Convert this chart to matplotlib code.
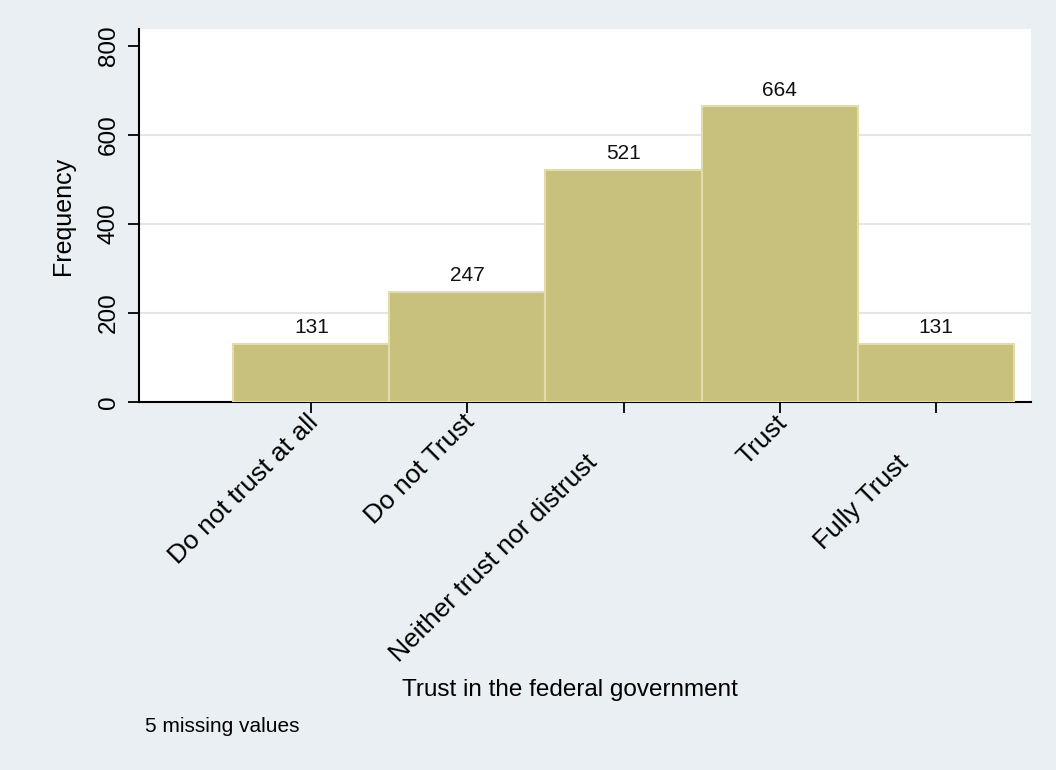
import matplotlib.pyplot as plt

# Dades de l'histograma
categories = ['Do not trust at all', 'Do not Trust', 'Neither trust nor distrust', 'Trust', 'Fully Trust']
positions = [1, 2, 3, 4, 5]
counts = [131, 247, 521, 664, 131]
yticks = [0, 200, 400, 600, 800]

plt.rcParams['font.family'] = ['Liberation Sans', 'DejaVu Sans']

fig = plt.figure(figsize=(10.56, 7.70), dpi=100, facecolor='#e9eff2')
ax = fig.add_axes([0.1316, 0.4779, 0.8447, 0.4844])
ax.set_facecolor('white')

ax.bar(positions, counts, width=1.0, color='#c8c17e', edgecolor='#e2dbab', linewidth=1.5, zorder=3)
for x, v in zip(positions, counts):
    ax.annotate(str(v), (x, v), xytext=(0, 5), textcoords='offset points',
                ha='center', va='bottom', fontsize=15, color='#111111')

ax.set_xlim(-0.104, 5.61)
ax.set_ylim(0, 838)

ax.set_yticks(yticks)
ax.set_yticklabels([str(t) for t in yticks], rotation=90, va='center', fontsize=17.5)
for t in [200, 400, 600]:
    ax.axhline(t, color='#e6e6e6', linewidth=1.5, zorder=1)

# etiquetes de l'eix X alternades (estil Stata)
ax.set_xticks(positions)
ax.set_xticklabels([])
for i, (x, lab) in enumerate(zip(positions, categories)):
    if i % 2 == 0 and i > 0:
        off = (-22, -41)
    else:
        off = (2.5, -12)
    ax.annotate(lab, (x, 0), xycoords=('data', 'axes fraction'), xytext=off,
                textcoords='offset points', ha='right', va='center',
                rotation=45, rotation_mode='anchor', fontsize=19, annotation_clip=False)

ax.tick_params(axis='both', direction='out', length=8, width=1.3, color='black', pad=6)
for side in ['top', 'right']:
    ax.spines[side].set_visible(False)
for side in ['left', 'bottom']:
    ax.spines[side].set_linewidth(1.5)

ax.set_ylabel('Frequency', fontsize=18, labelpad=16)
fig.text(570 / 1056, 1 - 690 / 770, 'Trust in the federal government', ha='center', va='center', fontsize=17.5)
fig.text(145 / 1056, 1 - 727 / 770, '5 missing values', ha='left', va='center', fontsize=15)

plt.savefig('out.png', dpi=100, facecolor=fig.get_facecolor())
